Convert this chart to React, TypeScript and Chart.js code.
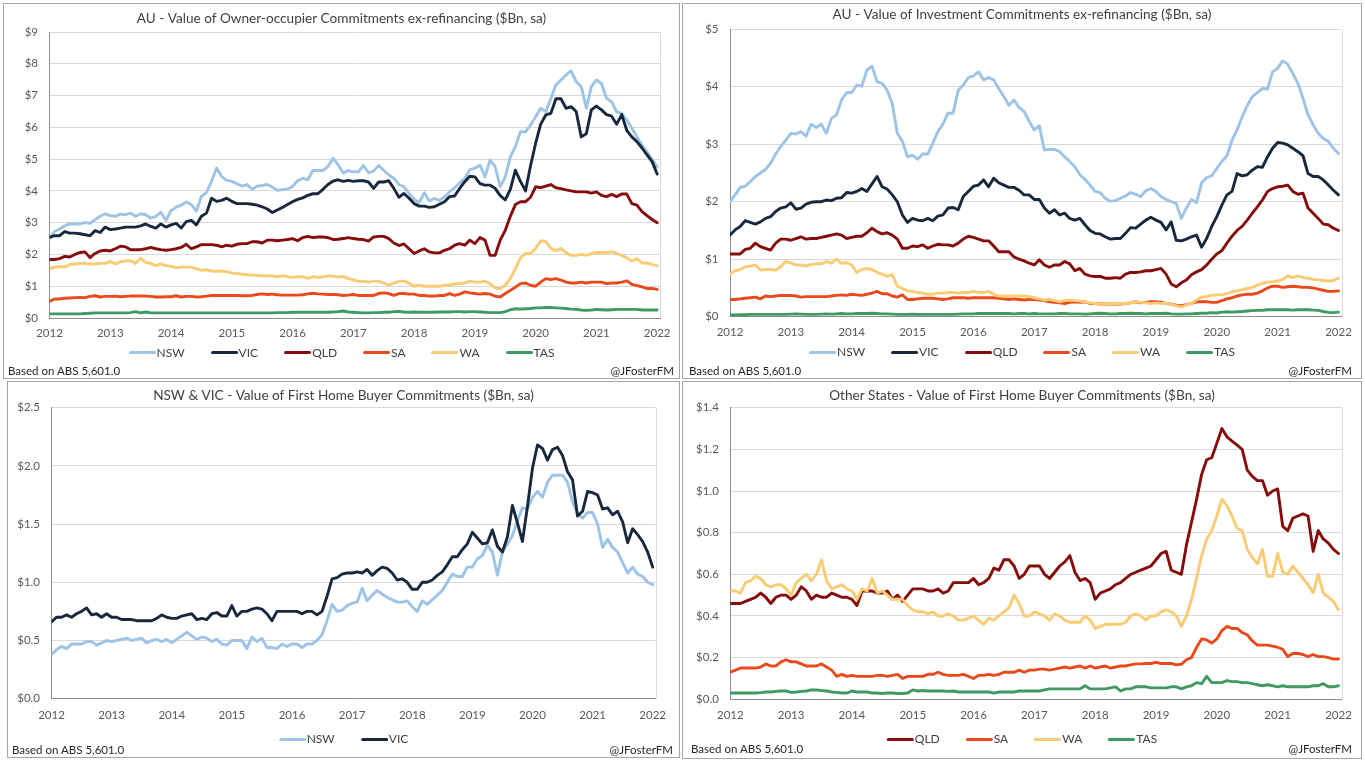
import React, { useEffect, useRef } from "react";
import { Chart, registerables } from "chart.js";

Chart.register(...registerables);

// ---------- axis categories (monthly, Jan-2012 .. Jan-2022) ----------
const months: number[] = Array.from({ length: 121 }, (_, i) => 2012 + i / 12);

// ---------- Owner-occupier commitments ex-refinancing ($Bn) ----------
const ooNSW = [
  2.51, 2.72, 2.8, 2.9, 2.96, 2.96, 2.96, 3.0, 2.98, 3.09, 3.2, 3.28,
  3.22, 3.2, 3.27, 3.25, 3.3, 3.2, 3.28, 3.25, 3.14, 3.2, 3.33, 3.07,
  3.38, 3.49, 3.55, 3.65, 3.57, 3.36, 3.83, 3.95, 4.3, 4.72, 4.45, 4.33,
  4.3, 4.23, 4.15, 4.2, 4.05, 4.15, 4.17, 4.2, 4.12, 4.02, 4.04, 4.06,
  4.14, 4.32, 4.4, 4.35, 4.64, 4.64, 4.64, 4.77, 5.03, 4.82, 4.56, 4.64,
  4.6, 4.6, 4.8, 4.57, 4.63, 4.8, 4.65, 4.5, 4.4, 4.2, 4.13, 3.92,
  3.74, 3.63, 3.94, 3.68, 3.76, 3.7, 3.81, 3.97, 4.1, 4.25, 4.39, 4.67,
  4.72, 4.81, 4.44, 4.97, 4.76, 4.13, 4.44, 5.07, 5.39, 5.86, 5.86, 6.07,
  6.33, 6.6, 6.49, 6.91, 7.33, 7.49, 7.65, 7.78, 7.44, 7.28, 6.6, 7.28,
  7.49, 7.38, 6.91, 6.8, 6.49, 6.44, 6.23, 5.97, 5.7, 5.44, 5.23, 4.99,
  4.76,
];
const ooVIC = [
  2.54, 2.59, 2.59, 2.72, 2.67, 2.67, 2.65, 2.62, 2.59, 2.75, 2.69, 2.86,
  2.78, 2.8, 2.83, 2.86, 2.86, 2.86, 2.9, 2.96, 2.88, 2.83, 2.96, 2.86,
  2.93, 2.98, 2.83, 3.03, 3.07, 2.93, 3.2, 3.3, 3.77, 3.67, 3.7, 3.77,
  3.67, 3.6, 3.6, 3.6, 3.58, 3.55, 3.5, 3.43, 3.32, 3.4, 3.48, 3.57,
  3.66, 3.73, 3.78, 3.86, 3.91, 3.91, 4.05, 4.2, 4.31, 4.35, 4.3, 4.33,
  4.3, 4.32, 4.32, 4.28, 4.08, 4.28, 4.28, 4.32, 4.08, 3.8, 3.92, 3.77,
  3.6, 3.52, 3.52, 3.48, 3.5, 3.58, 3.66, 3.82, 3.84, 4.08, 4.29, 4.46,
  4.44, 4.23, 4.18, 4.18, 4.08, 3.85, 3.72, 4.05, 4.65, 4.3, 4.0, 4.8,
  5.5, 6.1, 6.39, 6.44, 6.9, 6.9, 6.6, 6.65, 6.5, 5.7, 5.8, 6.55,
  6.67, 6.55, 6.4, 6.35, 6.1, 6.4, 5.9, 5.7, 5.55, 5.35, 5.13, 4.92,
  4.53,
];
const ooQLD = [
  1.84, 1.84, 1.87, 1.94, 1.92, 2.0, 2.06, 2.08, 1.9, 2.03, 2.11, 2.13,
  2.11, 2.18, 2.26, 2.24, 2.15, 2.15, 2.15, 2.18, 2.22, 2.18, 2.15, 2.13,
  2.15, 2.18, 2.22, 2.32, 2.18, 2.24, 2.31, 2.31, 2.31, 2.29, 2.24, 2.29,
  2.26, 2.32, 2.34, 2.34, 2.4, 2.4, 2.36, 2.45, 2.45, 2.43, 2.45, 2.47,
  2.5, 2.43, 2.53, 2.57, 2.53, 2.55, 2.55, 2.53, 2.47, 2.48, 2.5, 2.53,
  2.5, 2.48, 2.47, 2.42, 2.55, 2.57, 2.57, 2.5, 2.36, 2.28, 2.33, 2.18,
  2.03, 2.11, 2.18, 2.08, 2.05, 2.05, 2.13, 2.18, 2.29, 2.34, 2.29, 2.45,
  2.34, 2.53, 2.45, 1.97, 1.97, 2.45, 2.76, 3.2, 3.57, 3.66, 3.66, 3.8,
  4.13, 4.1, 4.15, 4.2, 4.1, 4.07, 4.03, 4.0, 3.97, 3.97, 3.97, 3.93,
  3.97, 3.86, 3.82, 3.89, 3.82, 3.9, 3.9, 3.6, 3.55, 3.35, 3.22, 3.1,
  3.0,
];
const ooSA = [
  0.52, 0.6, 0.6, 0.62, 0.63, 0.64, 0.65, 0.64, 0.68, 0.7, 0.66, 0.68,
  0.68, 0.69, 0.67, 0.68, 0.69, 0.69, 0.69, 0.69, 0.68, 0.66, 0.66, 0.67,
  0.67, 0.7, 0.66, 0.68, 0.68, 0.66, 0.67, 0.69, 0.71, 0.71, 0.71, 0.71,
  0.71, 0.71, 0.7, 0.7, 0.71, 0.74, 0.76, 0.74, 0.75, 0.73, 0.72, 0.72,
  0.72, 0.72, 0.73, 0.76, 0.78, 0.76, 0.75, 0.74, 0.74, 0.73, 0.71, 0.72,
  0.74, 0.71, 0.71, 0.71, 0.71, 0.77, 0.79, 0.77, 0.71, 0.77, 0.77, 0.75,
  0.75, 0.71, 0.71, 0.69, 0.69, 0.71, 0.71, 0.77, 0.71, 0.75, 0.82, 0.79,
  0.77, 0.75, 0.77, 0.75, 0.69, 0.66, 0.77, 0.87, 0.97, 1.08, 1.1, 1.03,
  1.0, 1.13, 1.24, 1.21, 1.24, 1.19, 1.13, 1.1, 1.1, 1.13, 1.1, 1.13,
  1.13, 1.13, 1.08, 1.1, 1.1, 1.13, 1.17, 1.06, 1.02, 0.98, 0.93, 0.93,
  0.9,
];
const ooWA = [
  1.55, 1.6, 1.62, 1.6, 1.68, 1.7, 1.72, 1.72, 1.7, 1.7, 1.72, 1.72,
  1.78, 1.7, 1.77, 1.8, 1.8, 1.72, 1.88, 1.75, 1.72, 1.65, 1.7, 1.65,
  1.63, 1.58, 1.6, 1.6, 1.6, 1.55, 1.5, 1.52, 1.48, 1.47, 1.48, 1.45,
  1.42, 1.4, 1.38, 1.36, 1.35, 1.34, 1.33, 1.33, 1.32, 1.3, 1.33, 1.3,
  1.28, 1.3, 1.3, 1.25, 1.3, 1.28, 1.3, 1.32, 1.32, 1.29, 1.31, 1.24,
  1.2, 1.15, 1.16, 1.13, 1.16, 1.16, 1.1, 1.03, 1.1, 1.16, 1.16, 1.1,
  1.0, 1.03, 1.0, 1.0, 1.0, 1.0, 1.03, 1.03, 1.08, 1.08, 1.1, 1.16,
  1.13, 1.13, 1.16, 1.08, 0.95, 0.92, 1.03, 1.24, 1.55, 1.89, 2.03, 2.03,
  2.19, 2.43, 2.4, 2.19, 2.12, 2.19, 2.05, 1.97, 1.97, 2.0, 1.97, 2.03,
  2.06, 2.06, 2.06, 2.08, 2.03, 1.97, 1.89, 1.79, 1.87, 1.73, 1.73, 1.69,
  1.64,
];
const ooTAS = [
  0.13, 0.13, 0.13, 0.13, 0.13, 0.13, 0.13, 0.14, 0.15, 0.16, 0.16, 0.16,
  0.16, 0.16, 0.16, 0.16, 0.17, 0.2, 0.16, 0.19, 0.16, 0.16, 0.16, 0.16,
  0.16, 0.16, 0.16, 0.16, 0.16, 0.16, 0.16, 0.16, 0.16, 0.16, 0.16, 0.16,
  0.16, 0.16, 0.16, 0.16, 0.16, 0.16, 0.16, 0.16, 0.16, 0.17, 0.17, 0.17,
  0.18, 0.18, 0.18, 0.18, 0.18, 0.18, 0.18, 0.18, 0.19, 0.2, 0.22, 0.19,
  0.18, 0.17, 0.16, 0.16, 0.17, 0.17, 0.18, 0.18, 0.2, 0.21, 0.19, 0.18,
  0.19, 0.18, 0.18, 0.18, 0.18, 0.19, 0.19, 0.19, 0.2, 0.2, 0.19, 0.2,
  0.2, 0.19, 0.18, 0.17, 0.17, 0.17, 0.2, 0.26, 0.29, 0.28, 0.29, 0.3,
  0.32, 0.32, 0.33, 0.33, 0.32, 0.31, 0.3, 0.28, 0.27, 0.25, 0.24, 0.25,
  0.27, 0.26, 0.25, 0.26, 0.27, 0.27, 0.27, 0.27, 0.27, 0.25, 0.25, 0.25,
  0.25,
];

// ---------- Investment commitments ex-refinancing ($Bn) ----------
const invNSW = [
  2.0, 2.12, 2.25, 2.27, 2.35, 2.44, 2.5, 2.56, 2.67, 2.83, 2.96, 3.07,
  3.19, 3.18, 3.22, 3.14, 3.35, 3.29, 3.35, 3.19, 3.45, 3.51, 3.77, 3.9,
  3.9, 4.03, 4.01, 4.29, 4.36, 4.09, 4.06, 3.94, 3.71, 3.19, 3.05, 2.78,
  2.81, 2.74, 2.83, 2.83, 3.02, 3.22, 3.35, 3.54, 3.54, 3.94, 4.03, 4.16,
  4.19, 4.26, 4.12, 4.16, 4.12, 3.97, 3.83, 3.68, 3.77, 3.64, 3.57, 3.4,
  3.25, 3.32, 2.9, 2.91, 2.91, 2.87, 2.78, 2.7, 2.61, 2.47, 2.39, 2.29,
  2.18, 2.16, 2.06, 2.01, 2.02, 2.06, 2.1, 2.16, 2.13, 2.09, 2.19, 2.23,
  2.18, 2.09, 2.04, 2.0, 1.97, 1.71, 1.89, 2.04, 1.98, 2.33, 2.42, 2.45,
  2.58, 2.7, 2.8, 3.07, 3.25, 3.48, 3.67, 3.83, 3.9, 3.97, 3.96, 4.26,
  4.32, 4.45, 4.39, 4.23, 4.06, 3.8, 3.51, 3.34, 3.19, 3.1, 3.05, 2.93,
  2.84,
];
const invVIC = [
  1.42, 1.51, 1.57, 1.67, 1.64, 1.61, 1.65, 1.71, 1.74, 1.83, 1.89, 1.91,
  1.98, 1.87, 1.89, 1.96, 1.99, 2.0, 2.0, 2.03, 2.02, 2.06, 2.07, 2.16,
  2.15, 2.18, 2.23, 2.18, 2.31, 2.44, 2.26, 2.22, 2.12, 2.0, 1.77, 1.64,
  1.71, 1.68, 1.67, 1.71, 1.67, 1.75, 1.77, 1.89, 1.9, 1.86, 2.09, 2.18,
  2.27, 2.29, 2.38, 2.26, 2.41, 2.33, 2.29, 2.25, 2.25, 2.2, 2.12, 2.12,
  2.04, 2.04, 1.89, 1.8, 1.86, 1.77, 1.8, 1.71, 1.68, 1.71, 1.6, 1.5,
  1.45, 1.44, 1.39, 1.35, 1.36, 1.36, 1.45, 1.55, 1.54, 1.61, 1.68, 1.73,
  1.68, 1.64, 1.51, 1.65, 1.33, 1.32, 1.35, 1.39, 1.42, 1.21, 1.36, 1.57,
  1.74, 1.94, 2.12, 2.18, 2.49, 2.45, 2.47, 2.55, 2.61, 2.6, 2.78, 2.93,
  3.03, 3.02, 2.99, 2.93, 2.87, 2.8, 2.49, 2.44, 2.44, 2.38, 2.29, 2.2,
  2.12,
];
const invQLD = [
  1.09, 1.09, 1.09, 1.17, 1.19, 1.28, 1.22, 1.19, 1.16, 1.28, 1.35, 1.35,
  1.33, 1.36, 1.39, 1.35, 1.36, 1.36, 1.38, 1.4, 1.42, 1.44, 1.42, 1.36,
  1.38, 1.4, 1.4, 1.46, 1.54, 1.48, 1.44, 1.46, 1.42, 1.35, 1.19, 1.19,
  1.23, 1.22, 1.25, 1.19, 1.23, 1.26, 1.25, 1.25, 1.23, 1.28, 1.35, 1.4,
  1.38, 1.35, 1.32, 1.32, 1.23, 1.13, 1.13, 1.13, 1.04, 1.0, 0.97, 0.93,
  0.9, 0.99, 0.9, 0.86, 0.9, 0.9, 0.96, 0.92, 0.8, 0.84, 0.74, 0.71,
  0.7, 0.7, 0.67, 0.67, 0.68, 0.67, 0.74, 0.77, 0.77, 0.78, 0.8, 0.8,
  0.82, 0.84, 0.74, 0.57, 0.52, 0.59, 0.64, 0.73, 0.78, 0.82, 0.9, 1.0,
  1.09, 1.15, 1.28, 1.4, 1.5, 1.57, 1.68, 1.8, 1.91, 2.03, 2.18, 2.23,
  2.26, 2.27, 2.29, 2.18, 2.13, 2.15, 1.89, 1.8, 1.71, 1.61, 1.6, 1.54,
  1.5,
];
const invSA = [
  0.3, 0.3, 0.31, 0.32, 0.33, 0.34, 0.31, 0.36, 0.35, 0.36, 0.37, 0.37,
  0.37, 0.36, 0.34, 0.35, 0.35, 0.35, 0.35, 0.35, 0.36, 0.37, 0.38, 0.37,
  0.39, 0.38, 0.37, 0.39, 0.41, 0.44, 0.4, 0.4, 0.36, 0.34, 0.38, 0.3,
  0.3, 0.31, 0.32, 0.32, 0.32, 0.31, 0.3, 0.31, 0.33, 0.33, 0.33, 0.32,
  0.33, 0.33, 0.33, 0.33, 0.33, 0.32, 0.31, 0.3, 0.31, 0.3, 0.29, 0.3,
  0.3, 0.29, 0.28, 0.26, 0.25, 0.24, 0.23, 0.25, 0.26, 0.25, 0.26, 0.23,
  0.23, 0.22, 0.22, 0.22, 0.22, 0.22, 0.23, 0.24, 0.26, 0.24, 0.25, 0.26,
  0.26, 0.25, 0.23, 0.22, 0.2, 0.19, 0.21, 0.23, 0.26, 0.26, 0.26, 0.25,
  0.25, 0.28, 0.31, 0.33, 0.36, 0.38, 0.39, 0.39, 0.41, 0.45, 0.5, 0.53,
  0.53, 0.51, 0.52, 0.53, 0.52, 0.51, 0.51, 0.5, 0.48, 0.46, 0.44, 0.44,
  0.45,
];
const invWA = [
  0.74, 0.8, 0.82, 0.87, 0.88, 0.9, 0.81, 0.82, 0.82, 0.81, 0.87, 0.96,
  0.93, 0.9, 0.9, 0.88, 0.91, 0.92, 0.92, 0.96, 0.93, 1.0, 0.93, 0.94,
  0.9, 0.77, 0.82, 0.84, 0.82, 0.77, 0.74, 0.7, 0.73, 0.53, 0.49, 0.45,
  0.44, 0.42, 0.41, 0.39, 0.39, 0.41, 0.41, 0.42, 0.42, 0.41, 0.42, 0.42,
  0.44, 0.42, 0.42, 0.44, 0.39, 0.36, 0.36, 0.36, 0.36, 0.36, 0.36, 0.35,
  0.33, 0.31, 0.29, 0.3, 0.28, 0.26, 0.28, 0.29, 0.28, 0.27, 0.26, 0.24,
  0.23, 0.22, 0.22, 0.23, 0.23, 0.23, 0.23, 0.24, 0.26, 0.25, 0.24, 0.23,
  0.24, 0.23, 0.23, 0.22, 0.19, 0.17, 0.2, 0.23, 0.29, 0.34, 0.35, 0.37,
  0.38, 0.38, 0.4, 0.43, 0.45, 0.47, 0.49, 0.51, 0.55, 0.58, 0.6, 0.61,
  0.62, 0.65, 0.71, 0.68, 0.71, 0.68, 0.67, 0.65, 0.64, 0.63, 0.62, 0.63,
  0.67,
];
const invTAS = [
  0.03, 0.03, 0.035, 0.035, 0.04, 0.04, 0.04, 0.04, 0.04, 0.04, 0.04, 0.04,
  0.045, 0.05, 0.045, 0.04, 0.04, 0.04, 0.045, 0.05, 0.045, 0.05, 0.055, 0.05,
  0.05, 0.055, 0.055, 0.055, 0.06, 0.055, 0.05, 0.05, 0.045, 0.04, 0.04, 0.04,
  0.045, 0.04, 0.04, 0.04, 0.04, 0.04, 0.04, 0.04, 0.04, 0.045, 0.05, 0.05,
  0.05, 0.055, 0.055, 0.055, 0.055, 0.055, 0.055, 0.055, 0.05, 0.055, 0.055, 0.05,
  0.055, 0.05, 0.05, 0.05, 0.05, 0.055, 0.055, 0.05, 0.05, 0.05, 0.045, 0.05,
  0.055, 0.06, 0.055, 0.05, 0.05, 0.055, 0.055, 0.06, 0.055, 0.055, 0.05, 0.055,
  0.055, 0.055, 0.06, 0.05, 0.045, 0.045, 0.05, 0.05, 0.055, 0.06, 0.06, 0.07,
  0.065, 0.08, 0.085, 0.08, 0.085, 0.09, 0.1, 0.105, 0.11, 0.11, 0.12, 0.12,
  0.12, 0.12, 0.12, 0.115, 0.12, 0.12, 0.12, 0.115, 0.11, 0.09, 0.075, 0.07,
  0.08,
];

// ---------- First home buyer commitments: NSW & VIC ($Bn) ----------
const fhbNSW = [
  0.38, 0.42, 0.45, 0.43, 0.47, 0.47, 0.47, 0.49, 0.49, 0.46, 0.48, 0.5,
  0.49, 0.5, 0.51, 0.52, 0.5, 0.51, 0.52, 0.48, 0.5, 0.51, 0.49, 0.51,
  0.48, 0.51, 0.54, 0.57, 0.54, 0.51, 0.53, 0.52, 0.49, 0.51, 0.47, 0.46,
  0.5, 0.5, 0.5, 0.43, 0.53, 0.49, 0.52, 0.44, 0.44, 0.43, 0.47, 0.45,
  0.47, 0.47, 0.44, 0.47, 0.47, 0.5, 0.55, 0.67, 0.81, 0.75, 0.76, 0.8,
  0.82, 0.83, 0.95, 0.84, 0.89, 0.93, 0.9, 0.87, 0.85, 0.83, 0.83, 0.84,
  0.79, 0.75, 0.84, 0.81, 0.85, 0.89, 0.93, 1.0, 1.07, 1.05, 1.05, 1.13,
  1.13, 1.2, 1.23, 1.32, 1.26, 1.06, 1.26, 1.33, 1.4, 1.53, 1.64, 1.63,
  1.73, 1.78, 1.73, 1.86, 1.92, 1.92, 1.92, 1.86, 1.69, 1.59, 1.55, 1.6,
  1.6, 1.5, 1.3, 1.37, 1.3, 1.26, 1.17, 1.08, 1.13, 1.07, 1.05, 1.0,
  0.98,
];
const fhbVIC = [
  0.66, 0.7, 0.7, 0.72, 0.7, 0.73, 0.75, 0.78, 0.72, 0.73, 0.7, 0.73,
  0.7, 0.7, 0.68, 0.68, 0.68, 0.67, 0.67, 0.67, 0.67, 0.69, 0.72, 0.7,
  0.69, 0.69, 0.71, 0.72, 0.73, 0.68, 0.69, 0.68, 0.73, 0.74, 0.71, 0.71,
  0.8, 0.71, 0.75, 0.75, 0.77, 0.78, 0.77, 0.73, 0.67, 0.75, 0.75, 0.75,
  0.75, 0.75, 0.73, 0.75, 0.75, 0.72, 0.75, 0.88, 1.03, 1.04, 1.07, 1.08,
  1.08, 1.09, 1.08, 1.11, 1.06, 1.1, 1.13, 1.12, 1.08, 1.02, 1.03, 1.0,
  0.94, 0.94, 1.0, 1.0, 1.02, 1.06, 1.09, 1.15, 1.22, 1.22, 1.28, 1.33,
  1.43, 1.38, 1.33, 1.34, 1.45, 1.31, 1.26, 1.39, 1.66, 1.51, 1.35, 1.65,
  1.98, 2.18, 2.15, 2.05, 2.14, 2.16, 2.09, 1.95, 1.88, 1.57, 1.61, 1.78,
  1.77, 1.75, 1.63, 1.64, 1.58, 1.61, 1.52, 1.34, 1.46, 1.41, 1.35, 1.26,
  1.13,
];

// ---------- First home buyer commitments: other states ($Bn) ----------
const fhbQLD = [
  0.46, 0.46, 0.46, 0.47, 0.48, 0.49, 0.51, 0.49, 0.46, 0.49, 0.5, 0.5,
  0.48, 0.5, 0.54, 0.52, 0.48, 0.5, 0.49, 0.49, 0.51, 0.5, 0.49, 0.49,
  0.48, 0.45, 0.52, 0.52, 0.52, 0.51, 0.51, 0.52, 0.48, 0.5, 0.47, 0.5,
  0.53, 0.53, 0.53, 0.52, 0.52, 0.53, 0.51, 0.52, 0.56, 0.56, 0.56, 0.56,
  0.58, 0.55, 0.56, 0.58, 0.63, 0.62, 0.67, 0.67, 0.64, 0.58, 0.6, 0.64,
  0.64, 0.64, 0.6, 0.58, 0.61, 0.64, 0.66, 0.69, 0.61, 0.57, 0.58, 0.56,
  0.48, 0.51, 0.52, 0.53, 0.55, 0.56, 0.58, 0.6, 0.61, 0.62, 0.63, 0.64,
  0.67, 0.7, 0.71, 0.62, 0.61, 0.6, 0.74, 0.85, 0.96, 1.08, 1.15, 1.16,
  1.23, 1.3, 1.26, 1.24, 1.22, 1.2, 1.1, 1.07, 1.05, 1.05, 0.98, 1.0,
  1.01, 0.83, 0.81, 0.87, 0.88, 0.89, 0.88, 0.71, 0.81, 0.77, 0.75, 0.72,
  0.7,
];
const fhbSA = [
  0.13, 0.14, 0.15, 0.15, 0.15, 0.15, 0.155, 0.17, 0.16, 0.16, 0.18, 0.19,
  0.18, 0.18, 0.17, 0.16, 0.16, 0.16, 0.17, 0.155, 0.14, 0.11, 0.12, 0.11,
  0.115, 0.11, 0.11, 0.11, 0.11, 0.115, 0.115, 0.11, 0.115, 0.12, 0.1, 0.11,
  0.11, 0.11, 0.11, 0.12, 0.12, 0.13, 0.12, 0.115, 0.115, 0.115, 0.12, 0.11,
  0.1, 0.115, 0.115, 0.12, 0.115, 0.12, 0.13, 0.13, 0.13, 0.14, 0.13, 0.14,
  0.14, 0.145, 0.145, 0.14, 0.145, 0.15, 0.155, 0.15, 0.155, 0.16, 0.15, 0.16,
  0.15, 0.155, 0.16, 0.15, 0.155, 0.16, 0.16, 0.165, 0.17, 0.17, 0.172, 0.172,
  0.177, 0.172, 0.172, 0.172, 0.165, 0.168, 0.19, 0.2, 0.25, 0.29, 0.285, 0.27,
  0.29, 0.33, 0.35, 0.34, 0.34, 0.32, 0.31, 0.28, 0.26, 0.26, 0.26, 0.255,
  0.25, 0.24, 0.205, 0.22, 0.22, 0.215, 0.205, 0.215, 0.205, 0.205, 0.2, 0.193,
  0.193,
];
const fhbWA = [
  0.52, 0.52, 0.51, 0.56, 0.57, 0.59, 0.58, 0.55, 0.54, 0.55, 0.55, 0.53,
  0.5, 0.56, 0.58, 0.6, 0.57, 0.6, 0.67, 0.57, 0.53, 0.54, 0.55, 0.53,
  0.52, 0.48, 0.53, 0.52, 0.58, 0.51, 0.52, 0.5, 0.48, 0.48, 0.48, 0.45,
  0.43, 0.42, 0.42, 0.41, 0.42, 0.4, 0.4, 0.41, 0.4, 0.38, 0.38, 0.39,
  0.4, 0.38, 0.36, 0.39, 0.38, 0.4, 0.42, 0.44, 0.5, 0.46, 0.4, 0.4,
  0.42, 0.41, 0.4, 0.38, 0.41, 0.4, 0.38, 0.37, 0.37, 0.37, 0.4, 0.38,
  0.34, 0.35, 0.36, 0.36, 0.36, 0.36, 0.37, 0.4, 0.41, 0.4, 0.38, 0.4,
  0.4, 0.42, 0.43, 0.42, 0.4, 0.35, 0.4, 0.48, 0.58, 0.69, 0.77, 0.81,
  0.88, 0.96, 0.93, 0.88, 0.82, 0.81, 0.72, 0.68, 0.65, 0.72, 0.59, 0.59,
  0.7, 0.61, 0.6, 0.64, 0.61, 0.58, 0.55, 0.51, 0.6, 0.51, 0.49, 0.47,
  0.43,
];
const fhbTAS = [
  0.03, 0.03, 0.03, 0.03, 0.03, 0.03, 0.032, 0.035, 0.035, 0.038, 0.04, 0.04,
  0.033, 0.035, 0.038, 0.04, 0.045, 0.045, 0.042, 0.04, 0.035, 0.033, 0.03, 0.03,
  0.04, 0.035, 0.035, 0.035, 0.03, 0.03, 0.028, 0.03, 0.03, 0.028, 0.028, 0.03,
  0.045, 0.04, 0.042, 0.04, 0.04, 0.04, 0.04, 0.038, 0.04, 0.035, 0.035, 0.035,
  0.035, 0.035, 0.035, 0.035, 0.03, 0.035, 0.035, 0.035, 0.035, 0.04, 0.04, 0.04,
  0.04, 0.04, 0.045, 0.05, 0.05, 0.05, 0.05, 0.05, 0.05, 0.05, 0.065, 0.05,
  0.05, 0.05, 0.05, 0.055, 0.06, 0.04, 0.05, 0.05, 0.06, 0.06, 0.06, 0.055,
  0.055, 0.055, 0.055, 0.06, 0.06, 0.05, 0.06, 0.065, 0.08, 0.075, 0.11, 0.08,
  0.08, 0.08, 0.09, 0.085, 0.085, 0.08, 0.08, 0.075, 0.07, 0.065, 0.07, 0.065,
  0.06, 0.065, 0.06, 0.06, 0.06, 0.06, 0.06, 0.065, 0.065, 0.075, 0.06, 0.06,
  0.065,
];

// ---------- styling ----------
const FONT = "Lato, 'Open Sans', 'Liberation Sans', sans-serif";
const TICK_COLOR = "#595959";
const LEGEND_COLOR = "#404040";
const SMALL = 11.5;
const C_NSW = "#9DC3E6";
const C_VIC = "#17283D";
const C_QLD = "#860B0B";
const C_SA = "#EA4A1B";
const C_WA = "#FBCB74";
const C_TAS = "#3E9A62";

type Series = { label: string; data: number[]; color: string };

type PanelSpec = {
  title: string;
  series: Series[];
  yMax: number;
  yStep: number;
  yDec: number;
  box: { left: number; top: number; width: number; height: number };
  area: { l: number; r: number; t: number; b: number };
  titleY: number;
  tickY: number;
  legendY: number;
  footY: number;
  footL: number;
  footR: number;
};

const plotEdge = {
  id: "plotEdge",
  beforeDatasetsDraw(chart: any) {
    const { ctx, chartArea: a } = chart;
    ctx.save();
    ctx.strokeStyle = "#d9d9d9";
    ctx.lineWidth = 1;
    const x = Math.round(a.right) + 0.5;
    ctx.beginPath();
    ctx.moveTo(x, a.top);
    ctx.lineTo(x, a.bottom);
    ctx.stroke();
    ctx.restore();
  },
};

function Panel({ spec }: { spec: PanelSpec }) {
  const ref = useRef<HTMLCanvasElement | null>(null);
  const cw = spec.box.width - 2;
  const ch = spec.box.height - 2;
  const cx = spec.box.left + 1;
  const cy = spec.box.top + 1;

  useEffect(() => {
    const side = 4;
    const yAxisW = spec.area.l - cx - side;
    const rightW = cx + cw - spec.area.r - side;
    const areaTop = spec.area.t - cy;
    const areaBottom = spec.area.b - cy;
    const titleCenter = spec.titleY - cy;
    const tTop = titleCenter - 8.2;
    const tBottom = areaTop - 16.32 - tTop;
    const lh = SMALL * 1.2;
    const xPad = spec.tickY - spec.area.b - lh / 2;
    const xAxisH = xPad + lh + 3;
    const bottomPad = ch - areaBottom - xAxisH;
    const n = spec.series.length;

    const chart = new Chart(ref.current as HTMLCanvasElement, {
      type: "line",
      data: {
        datasets: spec.series.map((s, i) => ({
          label: s.label,
          data: s.data.map((v, k) => ({ x: months[k], y: v })),
          borderColor: s.color,
          backgroundColor: s.color,
          borderWidth: 2.9,
          pointRadius: 0,
          pointHoverRadius: 0,
          tension: 0,
          borderJoinStyle: "round",
          borderCapStyle: "round",
          order: n - i,
        })),
      },
      options: {
        responsive: false,
        animation: false,
        events: [],
        layout: { padding: { left: side, right: side, top: 0, bottom: bottomPad } },
        scales: {
          x: {
            type: "linear",
            min: 2012,
            max: 2022.05,
            grid: { display: false, drawTicks: false },
            border: { display: true, color: "#8c8c8c", width: 1 },
            ticks: {
              stepSize: 1,
              autoSkip: false,
              maxRotation: 0,
              includeBounds: false,
              padding: xPad,
              color: TICK_COLOR,
              font: { family: FONT, size: SMALL },
              callback: (v: any) => (Number.isInteger(v) ? String(v) : ""),
            },
            afterFit: (s: any) => {
              s.height = xAxisH;
            },
          },
          y: {
            min: 0,
            max: spec.yMax,
            grid: { color: "#d9d9d9", drawTicks: false, lineWidth: 1 },
            border: { display: true, color: "#8c8c8c", width: 1 },
            ticks: {
              stepSize: spec.yStep,
              padding: 11.5,
              color: TICK_COLOR,
              font: { family: FONT, size: SMALL },
              callback: (v: any) => "$" + Number(v).toFixed(spec.yDec),
            },
            afterFit: (s: any) => {
              s.width = yAxisW;
            },
          },
          yRight: {
            type: "linear",
            position: "right",
            display: true,
            grid: { display: false, drawTicks: false },
            border: { display: false },
            ticks: { display: false },
            afterFit: (s: any) => {
              s.width = rightW;
            },
          },
        },
        plugins: {
          title: {
            display: true,
            text: spec.title,
            color: "#404040",
            font: { family: FONT, size: 13.6, weight: "normal" },
            padding: { top: tTop, bottom: tBottom },
          },
          legend: { display: false },
          tooltip: { enabled: false },
        },
      } as any,
      plugins: [plotEdge],
    });
    return () => chart.destroy();
  }, []);

  const textBase: React.CSSProperties = {
    position: "absolute",
    fontFamily: FONT,
    fontSize: SMALL,
    whiteSpace: "nowrap",
    lineHeight: "14px",
  };

  return (
    <>
      <div
        style={{
          position: "absolute",
          left: spec.box.left,
          top: spec.box.top,
          width: spec.box.width,
          height: spec.box.height,
          border: "1px solid #a6a6a6",
          boxSizing: "border-box",
          background: "#ffffff",
        }}
      >
        <canvas ref={ref} width={cw} height={ch} style={{ display: "block", width: cw, height: ch }} />
      </div>
      <div
        style={{
          ...textBase,
          left: cx + cw / 2,
          top: spec.legendY,
          transform: "translate(-50%, -50%)",
          display: "flex",
          alignItems: "center",
          color: LEGEND_COLOR,
          fontSize: 12,
        }}
      >
        {spec.series.map((s, i) => (
          <span
            key={s.label}
            style={{ display: "flex", alignItems: "center", marginLeft: i === 0 ? 0 : 26 }}
          >
            <span
              style={{
                display: "inline-block",
                width: 27,
                height: 3,
                borderRadius: 1.5,
                background: s.color,
                marginRight: 1,
              }}
            />
            <span>{s.label}</span>
          </span>
        ))}
      </div>
      <div style={{ ...textBase, left: spec.footL, top: spec.footY, transform: "translateY(-50%)", color: "#262626" }}>
        Based on ABS 5,601.0
      </div>
      <div
        style={{ ...textBase, left: spec.footR, top: spec.footY, transform: "translate(-100%, -50%)", color: "#262626" }}
      >
        @JFosterFM
      </div>
    </>
  );
}

const PANELS: PanelSpec[] = [
  {
    title: "AU - Value of Owner-occupier Commitments ex-refinancing ($Bn, sa)",
    series: [
      { label: "NSW", data: ooNSW, color: C_NSW },
      { label: "VIC", data: ooVIC, color: C_VIC },
      { label: "QLD", data: ooQLD, color: C_QLD },
      { label: "SA", data: ooSA, color: C_SA },
      { label: "WA", data: ooWA, color: C_WA },
      { label: "TAS", data: ooTAS, color: C_TAS },
    ],
    yMax: 9,
    yStep: 1,
    yDec: 0,
    box: { left: 3, top: 3, width: 677, height: 376 },
    area: { l: 49.5, r: 665, t: 32, b: 318 },
    titleY: 18.3,
    tickY: 333.3,
    legendY: 352.7,
    footY: 371,
    footL: 8,
    footR: 674,
  },
  {
    title: "AU - Value of Investment Commitments ex-refinancing ($Bn, sa)",
    series: [
      { label: "NSW", data: invNSW, color: C_NSW },
      { label: "VIC", data: invVIC, color: C_VIC },
      { label: "QLD", data: invQLD, color: C_QLD },
      { label: "SA", data: invSA, color: C_SA },
      { label: "WA", data: invWA, color: C_WA },
      { label: "TAS", data: invTAS, color: C_TAS },
    ],
    yMax: 5,
    yStep: 1,
    yDec: 0,
    box: { left: 682, top: 3, width: 680, height: 376 },
    area: { l: 730, r: 1345, t: 29.3, b: 316.7 },
    titleY: 15,
    tickY: 332.7,
    legendY: 352.3,
    footY: 371,
    footL: 689,
    footR: 1352,
  },
  {
    title: "NSW & VIC - Value of First Home Buyer Commitments ($Bn, sa)",
    series: [
      { label: "NSW", data: fhbNSW, color: C_NSW },
      { label: "VIC", data: fhbVIC, color: C_VIC },
    ],
    yMax: 2.5,
    yStep: 0.5,
    yDec: 1,
    box: { left: 7, top: 381, width: 673, height: 377 },
    area: { l: 51.5, r: 655.7, t: 407.7, b: 698.7 },
    titleY: 396,
    tickY: 715.3,
    legendY: 739.3,
    footY: 750,
    footL: 12,
    footR: 673,
  },
  {
    title: "Other States - Value of First Home Buyer Commitments ($Bn, sa)",
    series: [
      { label: "QLD", data: fhbQLD, color: C_QLD },
      { label: "SA", data: fhbSA, color: C_SA },
      { label: "WA", data: fhbWA, color: C_WA },
      { label: "TAS", data: fhbTAS, color: C_TAS },
    ],
    yMax: 1.4,
    yStep: 0.2,
    yDec: 1,
    box: { left: 682, top: 381, width: 680, height: 378 },
    area: { l: 730.3, r: 1345, t: 407.7, b: 699.3 },
    titleY: 395.3,
    tickY: 715.3,
    legendY: 739.3,
    footY: 749,
    footL: 691,
    footR: 1352,
  },
];

export default function App() {
  return (
    <div
      style={{
        position: "fixed",
        left: 0,
        top: 0,
        width: 1365,
        height: 764,
        background: "#ffffff",
        overflow: "hidden",
      }}
    >
      {PANELS.map((p, i) => (
        <Panel key={i} spec={p} />
      ))}
    </div>
  );
}
